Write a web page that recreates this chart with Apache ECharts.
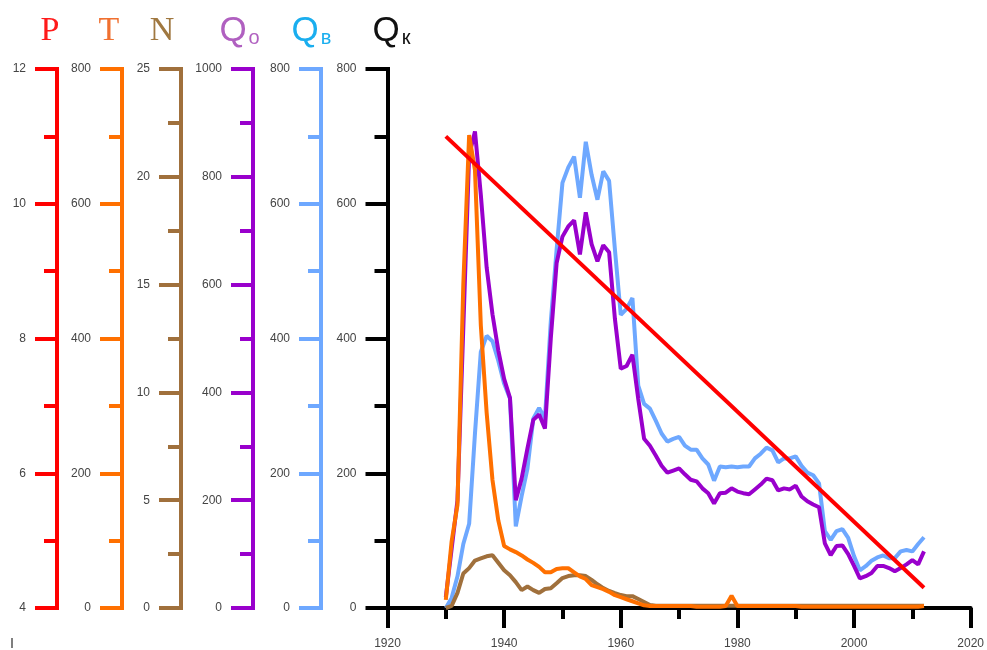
<!DOCTYPE html>
<html>
<head>
<meta charset="utf-8">
<script src="https://cdn.jsdelivr.net/npm/echarts@6/dist/echarts.min.js"></script>
<style>html,body{margin:0;padding:0;background:#fff}#c{width:987px;height:650px}</style>
</head>
<body>
<div id="c"></div>
<script>
const years = [1930,1931,1932,1933,1934,1935,1936,1937,1938,1939,1940,1941,1942,1943,1944,1945,1946,1947,1948,1949,
1950,1951,1952,1953,1954,1955,1956,1957,1958,1959,1960,1961,1962,1963,1964,1965,1966,1967,1968,1969,
1970,1971,1972,1973,1974,1975,1976,1977,1978,1979,1980,1981,1982,1983,1984,1985,1986,1987,1988,1989,
1990,1991,1992,1993,1994,1995,1996,1997,1998,1999,2000,2001,2002,2003,2004,2005,2006,2007,2008,2009,
2010,2011,2012];

// P trend line (endpoints)
const pYears = [1930, 2012];
const pValues = [11.0, 4.3];

const tValues = [12,99,153,480,702,650,420,290,190,130,92,87,83,78,72,67,61,53,53,58,
59,59,53,47,43,34,31,28,24,19,16,13,10,7,4,3,3,3,3,3,
3,3,3,2,2,2,2,2,3,18,3,3,3,3,3,3,3,3,3,3,
3,2,2,2,2,2,2,2,2,2,2,2,2,2,2,2,2,2,2,2,
2,2,3];

const nValues = [0,0.1,0.7,1.6,1.85,2.2,2.3,2.4,2.45,2.1,1.75,1.52,1.2,0.83,1.0,0.83,0.7,0.88,0.92,1.15,
1.39,1.48,1.52,1.52,1.48,1.3,1.1,0.92,0.79,0.69,0.6,0.55,0.55,0.42,0.28,0.14,0.1,0.1,0.1,0.1,
0.1,0.1,0.1,0.1,0.1,0.1,0.1,0.1,0.1,0.1,0.1,0.1,0.1,0.1,0.1,0.1,0.1,0.1,0.1,0.1,
0.1,0.1,0.1,0.1,0.1,0.1,0.1,0.1,0.1,0.1,0.1,0.1,0.1,0.1,0.1,0.1,0.1,0.1,0.1,0.1,
0.1,0.1,0.1];

const qoValues = [20,110,200,520,840,884,767,632,545,478,425,390,200,240,296,349,359,333,500,640,
689,708,719,656,734,675,643,673,660,536,444,449,470,388,314,301,283,264,251,255,
259,248,238,235,222,213,194,213,214,222,216,213,211,220,229,240,237,218,222,220,
227,207,198,192,187,120,98,115,116,100,78,55,59,65,78,78,74,68,74,81,
89,81,105];

const qvValues = [0,15,47,95,125,259,380,404,396,367,333,311,121,166,207,281,297,281,425,532,
631,654,670,609,692,643,606,648,634,532,435,444,460,330,303,296,278,259,247,251,
254,241,235,235,222,213,189,210,209,210,209,210,210,222,229,238,234,216,222,222,
225,211,201,197,185,114,101,114,117,104,77,56,62,70,75,78,74,74,84,86,
84,95,105];

const xTicks = {min: 1920, max: 2020, interval: 20};

const C = {
  P: '#ff0000', T: '#ff7000', N: '#a0703c', Qo: '#9900cc', Qv: '#6ea8ff', Qk: '#000000'
};

const plain = (v) => String(v);

function yAx(min, max, interval, color, offset) {
  return {
    type: 'value', position: 'left', offset: offset, min: min, max: max, interval: interval,
    axisLine: {show: true, onZero: false, lineStyle: {color: color, width: 4, cap: 'square'}},
    axisTick: {show: true, length: 22, lineStyle: {color: color, width: 4}},
    minorTick: {show: true, splitNumber: 2, length: 13, lineStyle: {color: color, width: 4}},
    axisLabel: {margin: 31, color: '#444', fontSize: 12, fontFamily: 'Liberation Sans', formatter: plain},
    splitLine: {show: false}, minorSplitLine: {show: false}
  };
}

const pair = (vals) => years.map((y, i) => [y, vals[i]]);

function line(data, yIdx, color) {
  return {type: 'line', data: data, yAxisIndex: yIdx, showSymbol: false, symbol: 'none',
    lineStyle: {color: color, width: 4}, itemStyle: {color: color}, animation: false};
}

const chart = echarts.init(document.getElementById('c'));
chart.setOption({
  animation: false,
  grid: {left: 387.5, right: 14.5, top: 69, bottom: 40, containLabel: false},
  xAxis: {
    type: 'value', min: xTicks.min, max: xTicks.max, interval: xTicks.interval,
    axisLine: {onZero: false, lineStyle: {color: '#000', width: 4}},
    axisTick: {show: true, length: 20, lineStyle: {color: '#000', width: 4}},
    minorTick: {show: true, splitNumber: 2, length: 11, lineStyle: {color: '#000', width: 4}},
    axisLabel: {margin: 30, color: '#444', fontSize: 12, fontFamily: 'Liberation Sans', formatter: plain},
    splitLine: {show: false}
  },
  yAxis: [
    yAx(0, 800, 200, C.Qk, 0),
    yAx(0, 800, 200, C.Qv, 66.5),
    yAx(0, 1000, 200, C.Qo, 134.5),
    yAx(0, 25, 5, C.N, 206.5),
    yAx(0, 800, 200, C.T, 265.5),
    yAx(4, 12, 2, C.P, 330.5)
  ],
  series: [
    line(pair(qvValues), 1, C.Qv),
    line(pair(qoValues), 2, C.Qo),
    line(pair(nValues), 3, C.N),
    line(pair(tValues), 4, C.T),
    line(pYears.map((y, i) => [y, pValues[i]]), 5, C.P)
  ],
  graphic: [
    {type: 'text', x: 50, y: 31, style: {text: 'P', fill: '#ff1a1a', font: '34px "Liberation Serif"', align: 'center', verticalAlign: 'middle'}},
    {type: 'text', x: 109, y: 31, style: {text: 'T', fill: '#f07030', font: '34px "Liberation Serif"', align: 'center', verticalAlign: 'middle'}},
    {type: 'text', x: 162, y: 31, style: {text: 'N', fill: '#a07840', font: '34px "Liberation Serif"', align: 'center', verticalAlign: 'middle'}},
    {type: 'text', x: 233, y: 31, style: {text: 'Q', fill: '#b060c0', font: '35px "Liberation Sans"', align: 'center', verticalAlign: 'middle'}},
    {type: 'text', x: 254, y: 38, style: {text: 'о', fill: '#b060c0', font: '20px "Liberation Sans"', align: 'center', verticalAlign: 'middle'}},
    {type: 'text', x: 305, y: 31, style: {text: 'Q', fill: '#1aaeef', font: '35px "Liberation Sans"', align: 'center', verticalAlign: 'middle'}},
    {type: 'text', x: 326, y: 38, style: {text: 'в', fill: '#1aaeef', font: '20px "Liberation Sans"', align: 'center', verticalAlign: 'middle'}},
    {type: 'text', x: 386, y: 31, style: {text: 'Q', fill: '#111', font: '35px "Liberation Sans"', align: 'center', verticalAlign: 'middle'}},
    {type: 'text', x: 406, y: 38, style: {text: 'к', fill: '#111', font: '20px "Liberation Sans"', align: 'center', verticalAlign: 'middle'}},
    {type: 'line', shape: {x1: 12, y1: 638, x2: 12, y2: 648}, style: {stroke: '#555', lineWidth: 1.5}}
  ]
});
</script>
</body>
</html>
